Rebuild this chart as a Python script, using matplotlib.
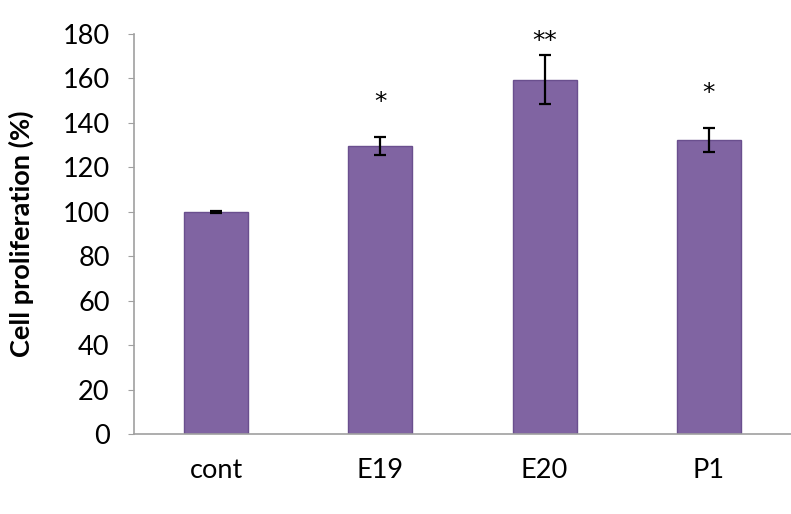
import matplotlib
matplotlib.use("Agg")
import matplotlib.pyplot as plt

# values
groups = ["cont", "E19", "E20", "P1"]
proliferation = [100, 129.6, 159.4, 132.4]
errors = [0.5, 4.1, 11.0, 5.3]
stars = ["", "*", "**", "*"]
star_height = [0, 149.5, 177, 153.5]

plt.rcParams["font.family"] = ["Lato", "DejaVu Sans"]

fig = plt.figure(figsize=(7.91, 5.14), dpi=100)
ax = fig.add_axes([0.1694, 0.1556, 0.8306, 0.7782])

x = range(len(groups))
ax.bar(x, proliferation, width=0.39, color="#8064A2", edgecolor="#6A4F8E", linewidth=1.0,
       yerr=errors, error_kw=dict(ecolor="black", elinewidth=1.6, capsize=4.5, capthick=1.6))

# significance marks above the bars
for i, s in enumerate(stars):
    if s:
        ax.text(i, star_height[i], s, ha="center", va="center", fontsize=18,
                family="DejaVu Sans", color="black")

ax.set_xlim(-0.5, len(groups) - 0.5)
ax.set_ylim(0, 180)
ax.set_yticks(range(0, 181, 20))
ax.set_xticks(list(x))
ax.set_xticklabels(groups)
ax.tick_params(axis="y", labelsize=19.5, length=4.5, color="#A0A0A0", pad=13)
ax.tick_params(axis="x", labelsize=19.5, length=0, pad=17)
ax.set_ylabel("Cell proliferation (%)", fontsize=19.5, fontweight="bold")
ax.yaxis.set_label_coords(-0.152, 0.5)

for side in ["top", "right"]:
    ax.spines[side].set_visible(False)
for side in ["left", "bottom"]:
    ax.spines[side].set_color("#A0A0A0")
    ax.spines[side].set_linewidth(1.2)

fig.savefig("out.png", dpi=100)
